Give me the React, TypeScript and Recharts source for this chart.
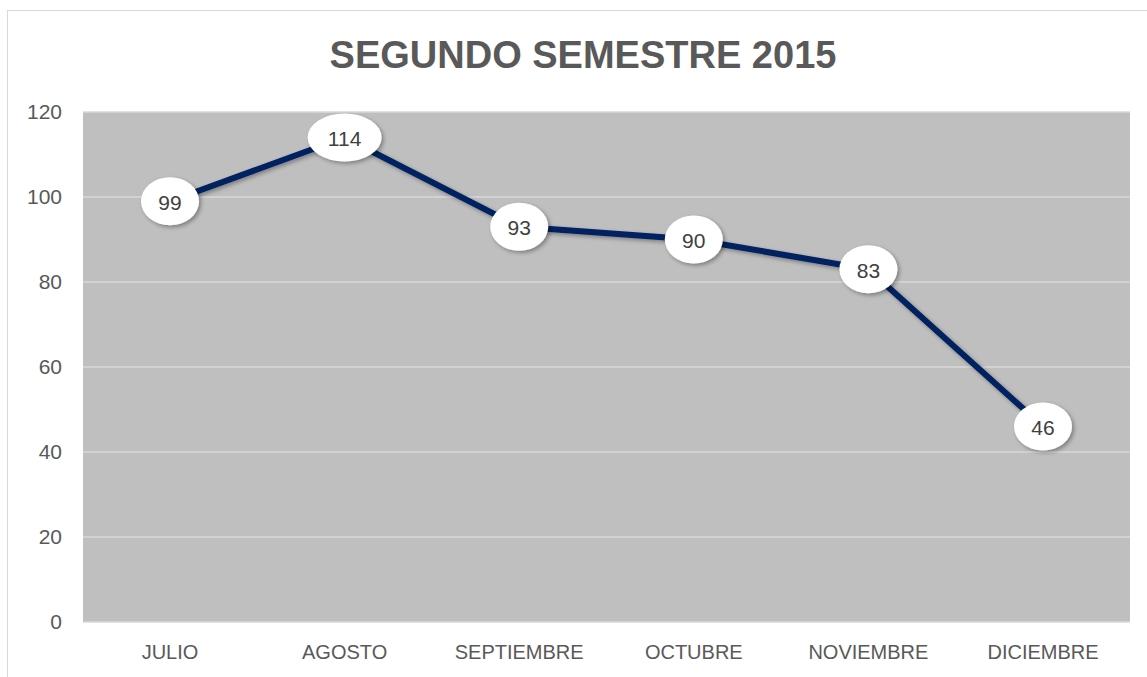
import React from 'react';
import { LineChart, Line, XAxis, YAxis, CartesianGrid, LabelList } from 'recharts';

const months = ['JULIO', 'AGOSTO', 'SEPTIEMBRE', 'OCTUBRE', 'NOVIEMBRE', 'DICIEMBRE'];
const totals = [99, 114, 93, 90, 83, 46];
const yTicks = [0, 20, 40, 60, 80, 100, 120];

const data = months.map((month, i) => ({ month, total: totals[i] }));

const FONT = '"Liberation Sans", Arial, sans-serif';

const BubbleLabel = (props: any) => {
    const { x, y, value } = props;
    if (x == null || y == null) return null;
    const text = String(value);
    const rx = 13 + text.length * 8;
    return (
        <g>
            <ellipse cx={x} cy={y} rx={rx} ry={24} fill="#ffffff" filter="url(#softShadow)" />
            <text x={x} y={y + 1} textAnchor="middle" dominantBaseline="central" fontSize={21} fill="#404040" fontFamily={FONT}>
                {text}
            </text>
        </g>
    );
};

export default function App() {
    return (
        <div style={{ position: 'absolute', left: 0, top: 0, width: 1147, height: 677, background: '#fff', overflow: 'hidden' }}>
            <svg width={0} height={0} style={{ position: 'absolute' }}>
                <defs>
                    <filter id="softShadow" x="-30%" y="-30%" width="160%" height="160%">
                        <feDropShadow dx="2" dy="2" stdDeviation="2" floodColor="#000" floodOpacity="0.35" />
                    </filter>
                </defs>
            </svg>
            <div style={{ position: 'absolute', left: 7, top: 10, width: 1145, height: 680, border: '1px solid #d9d9d9' }} />
            <div style={{ position: 'absolute', left: 183, top: 36, width: 800, textAlign: 'center', fontFamily: FONT, fontWeight: 'bold', fontSize: 38, lineHeight: '38px', color: '#595959' }}>
                SEGUNDO SEMESTRE 2015
            </div>
            <div style={{ position: 'absolute', left: 0, top: 0 }}>
                <LineChart width={1147} height={677} data={data} margin={{ top: 112, right: 17, bottom: 0, left: 0 }}>
                    <CartesianGrid vertical={false} fill="#bfbfbf" stroke="#d9d9d9" strokeWidth={1.5} />
                    <XAxis
                        dataKey="month"
                        height={55}
                        padding={{ left: 87, right: 87 }}
                        axisLine={false}
                        tickLine={false}
                        tickSize={0}
                        tickMargin={23}
                        tick={{ fontSize: 20, fill: '#595959', fontFamily: FONT }}
                    />
                    <YAxis
                        domain={[0, 120]}
                        ticks={yTicks}
                        width={83}
                        axisLine={false}
                        tickLine={false}
                        tickSize={0}
                        tickMargin={21}
                        tick={{ fontSize: 21, fill: '#595959', fontFamily: FONT }}
                    />
                    <Line
                        type="linear"
                        dataKey="total"
                        stroke="#002060"
                        strokeWidth={6}
                        dot={false}
                        activeDot={false}
                        filter="url(#softShadow)"
                        isAnimationActive={false}
                    >
                        <LabelList dataKey="total" content={<BubbleLabel />} />
                    </Line>
                </LineChart>
            </div>
        </div>
    );
}
